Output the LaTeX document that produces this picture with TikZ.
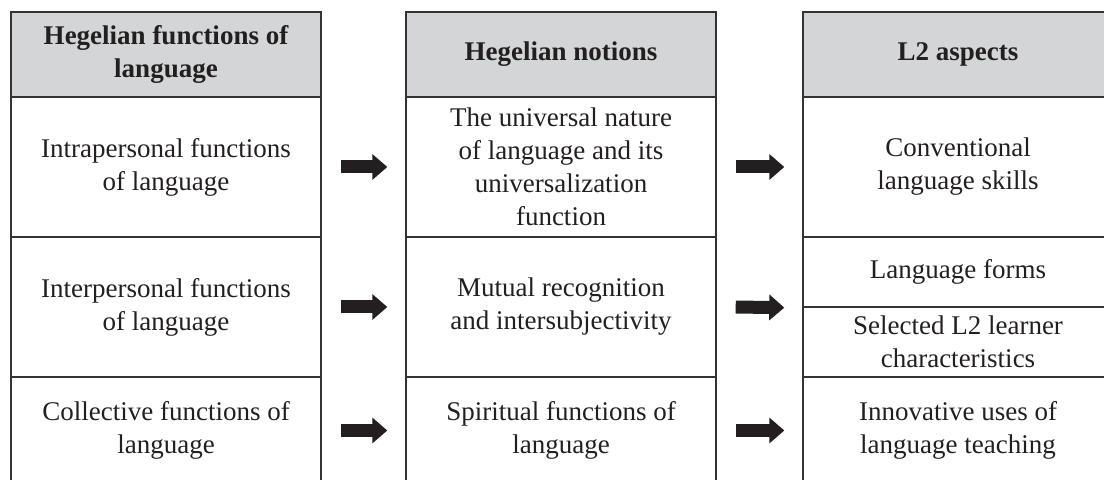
\documentclass[tikz,border=0pt]{standalone}
\usepackage{fontspec}
\setmainfont{Liberation Serif}
\usepackage{xcolor}
\usepackage{tikz}
\usetikzlibrary{arrows.meta, positioning}
\definecolor{hgray}{RGB}{212, 213, 215}
\definecolor{hline}{RGB}{51, 51, 51}
\definecolor{hink}{RGB}{35, 31, 32}

\begin{document}
\begin{tikzpicture}[
    x=0.5pt, y=-0.5pt,
    cell/.style={draw=hline, line width=0.7pt, minimum width=155pt, minimum height=70pt, inner sep=0pt, font=\fontsize{13.5}{16.5}\selectfont, align=center, text=hink},
    headcell/.style={cell, fill=hgray, minimum height=42.5pt, font=\fontsize{13.5}{16.5}\selectfont\bfseries},
    fatarrow/.style={draw=hink, line width=6.5pt, -{Triangle[length=7.5pt, width=12.5pt]}},
]
    \clip (0,0) rectangle (1104,480);

    % Header row
    \node[headcell] (hfunc) at (166,54.5) {Hegelian functions of\\language};
    \node[headcell] (hnot) at (561,54.5) {Hegelian notions};
    \node[headcell] (hasp) at (958,54.5) {L2 aspects};

    % Row 1
    \node[cell] (intra) at (166,167) {Intrapersonal functions\\of language};
    \node[cell] (universal) at (561,167) {The universal nature\\of language and its\\universalization\\function};
    \node[cell] (conv) at (958,167) {Conventional\\language skills};

    % Row 2
    \node[cell] (inter) at (166,307) {Interpersonal functions\\of language};
    \node[cell] (mutual) at (561,307) {Mutual recognition\\and intersubjectivity};
    \node[cell, minimum height=35pt] (forms) at (958,272) {Language forms};
    \node[cell, minimum height=35pt] (learner) at (958,342) {Selected L2 learner\\characteristics};

    % Row 3
    \node[cell, minimum height=53.5pt] (coll) at (166,430.5) {Collective functions of\\language};
    \node[cell, minimum height=53.5pt] (spirit) at (561,430.5) {Spiritual functions of\\language};
    \node[cell, minimum height=53.5pt] (innov) at (958,430.5) {Innovative uses of\\language teaching};

    % Arrows
    \draw[fatarrow] ([xshift=9.5pt]intra.east) -- ([xshift=-9pt]universal.west);
    \draw[fatarrow] ([xshift=9.5pt]universal.east) -- ([xshift=-9pt]conv.west);
    \draw[fatarrow] ([xshift=9.5pt]inter.east) -- ([xshift=-9pt]mutual.west);
    \draw[fatarrow] ([xshift=9.5pt]mutual.east) -- ([xshift=-9pt]forms.south west);
    \draw[fatarrow] ([xshift=9.5pt]coll.east) -- ([xshift=-9pt]spirit.west);
    \draw[fatarrow] ([xshift=9.5pt]spirit.east) -- ([xshift=-9pt]innov.west);
\end{tikzpicture}
\end{document}
